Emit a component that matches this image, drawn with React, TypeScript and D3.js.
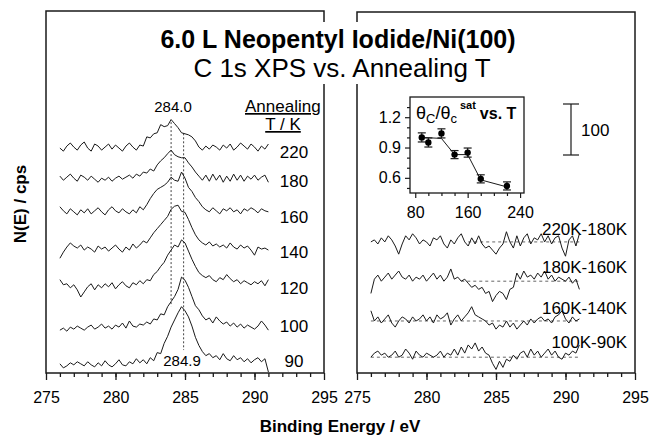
import React, { useEffect, useRef } from 'react';
import * as d3 from 'd3';

// spectra sampled from 276 to 291 eV every 0.25 eV
const eStart = 276;
const eStep = 0.25;

// annealing temperatures (K), top to bottom, and vertical offsets (cps)
const temps = ['220', '180', '160', '140', '120', '100', '90'];
const offsets = [441, 382, 316, 241, 169, 84, 10];

// C 1s spectra, cps above each offset
const s220 = [0, -6, 4, 10, 2, -4, 6, 12, 0, -6, 8, 4, -4, 2, 8, -2, 6, 0, -6, 4, 10, 2, -4, 6, 4,
  22, 20, 28, 30, 46, 42, 44, 56, 48, 40, 30, 28, 26, 22, 14, 2,
  -4, 4, -2, 6, 2, -4, 6, 0, 8, -4, 2, 10, 4, -2, 8, 2, -6, 4, -2, 8];
const s180 = [4, -4, 2, 8, 0, -6, 6, 2, -4, 4, -2, -8, 0, -4, 2, -6, 0, 4, -2, 2, 6, 0, 8, 4, 12,
  10, 18, 14, 26, 34, 40, 48, 55, 46, 42, 40, 40, 30, 22, 12, 4,
  -4, 6, -6, 8, -4, 6, -8, 4, -6, 8, -4, 6, -6, 4, -2, 6, -4, 2, 6, -8];
const s160 = [10, 2, -4, 6, 0, -6, 4, -2, 6, -4, 2, 8, 0, -6, 4, 10, 2, -2, 6, 0, -4, 4, -2, 10, 4,
  14, 26, 36, 44, 48, 52, 58, 68, 62, 60, 78, 66, 48, 40, 28, 20,
  10, 4, 0, 8, 2, -4, 6, 2, 8, 0, 4, -4, 6, 2, 8, 4, -2, 6, 2, 0];
const s140 = [-16, -4, 6, 14, 8, 4, 10, 0, 6, 2, -4, 8, 2, 6, -2, 4, 10, 2, -4, 6, 0, 12, 4, 10, 18,
  14, 24, 34, 42, 50, 58, 66, 80, 86, 88, 76, 74, 60, 44, 30, 20,
  14, 10, 16, 8, 12, 6, 10, 4, 14, 6, 2, 10, 4, 8, 0, -10, 6, 2, 4, 0];
const s120 = [14, 4, 6, -2, 4, -6, -20, -10, 0, 6, -6, 4, -2, 6, 0, 8, -4, 4, 10, 2, -2, 8, 4, 12, 6,
  14, 12, 24, 30, 40, 48, 62, 72, 82, 78, 92, 86, 70, 54, 40, 28,
  22, 18, 22, 14, 10, 18, 14, 24, 16, 10, 14, 6, 12, 8, 4, 10, 6, 12, 2, 14];
const s100 = [0, 4, -2, 6, 2, 8, 4, 0, 6, 10, 2, 6, 12, 4, 8, 2, 10, 6, 14, 4, 18, 8, 6, 12, 10,
  16, 12, 22, 20, 32, 30, 46, 56, 66, 80, 104, 98, 84, 66, 48, 40,
  28, 20, 24, 14, 26, 18, 12, 16, 8, 14, 6, 12, 4, 10, 6, 2, 8, 18, 10, 0];
const s90 = [8, 0, 4, 10, 6, 12, 8, 4, 12, 6, 2, 10, 4, 14, 6, 2, 8, 16, 6, 4, 12, 8, 18, 10, 16,
  8, 20, 14, 30, 28, 48, 62, 80, 94, 108, 120, 112, 100, 82, 60, 44,
  32, 24, 28, 20, 24, 16, 28, 18, 14, 24, 16, 20, 12, 18, 10, 16, 20, 12, 18, -8];
const spectra = [s220, s180, s160, s140, s120, s100, s90];

// peak positions marked with dotted lines (eV, cps range)
const refLines = [
  { e: 284.0, top: 492, bottom: 131, label: '284.0' },
  { e: 284.9, top: 470, bottom: 45, label: '284.9' },
];

// difference spectra
const diffLabels = ['220K-180K', '180K-160K', '160K-140K', '100K-90K'];
const diffOffsets = [257, 180, 102, 31];
const diffZeroFrom = [283, 282.5, 276, 276];
const d220 = [0, 4, -4, 8, 0, 12, 4, -8, -24, -4, 12, 4, 16, 8, -4, 4, 0, -8, 8, 4,
  12, -4, -12, 4, -4, 8, 16, 0, -8, 8, -4, 12, -4, -12, -8, -16, -24, -12, -4, 20,
  0, -12, 12, -8, 8, 16, -4, 8, 4, 16, 0, 12, -4, 8, 12, -12, -28, 4, 12, -8, 16];
const d180 = [-24, 4, 12, 0, 8, 16, 4, 12, 20, 8, 4, 12, 0, 8, 4, 12, 0, 8, 16, 4,
  12, 0, 8, 24, 4, 8, 0, 4, -4, -12, -8, -16, -12, -24, -20, -40, -28, -20, -24, -36,
  -16, -12, 16, 4, 20, 8, 12, 4, 16, 8, 20, 4, 12, 0, 8, 4, 0, 8, -4, 4, -16];
const d160 = [20, 0, 8, -4, 4, 12, -4, -12, 0, 8, 4, -4, 8, 0, 4, 12, 0, 8, -4, 12,
  4, 8, 16, -8, 4, 12, 0, 8, 16, 28, 12, 8, 4, 0, -8, -4, -16, -8, -12, 0,
  -12, -4, -16, -8, 0, -8, 4, -4, 4, 8, 0, 4, -4, 8, 12, 20, 4, -4, 8, 0, 4];
const d100 = [0, 8, 12, 4, 8, 0, 4, 12, 0, 4, 16, 8, -4, 12, 4, 0, 8, 4, 0, 4,
  12, 0, 8, 4, 16, 4, 20, 8, 24, 16, 28, 12, 20, 8, 4, -12, -24, -8, -20, -4,
  -8, 4, -4, 8, 12, 0, 16, 4, 12, 0, 8, 16, 4, 12, 0, -4, 8, 4, 12, 8, 24];
const diffs = [d220, d180, d160, d100];

// inset: carbon coverage vs annealing temperature
const insetT = [90, 100, 120, 140, 160, 180, 220];
const insetTheta = [1.0, 0.95, 1.04, 0.83, 0.85, 0.59, 0.52];
const insetErr = [0.045, 0.045, 0.045, 0.04, 0.045, 0.04, 0.04];
const fitT = [90, 120, 140, 160, 180, 220];
const fitTheta = [1.0, 0.99, 0.83, 0.83, 0.58, 0.51];

const font = "'Liberation Sans', Arial, Helvetica, sans-serif";

export default function App() {
  const ref = useRef<SVGSVGElement>(null);

  useEffect(() => {
    document.body.style.margin = '0';
    const svg = d3.select(ref.current);
    svg.selectAll('*').remove();

    const xL = d3.scaleLinear().domain([275, 295]).range([46, 324]);
    const xR = d3.scaleLinear().domain([275, 295]).range([357, 635]);
    const y = d3.scaleLinear().domain([0, 700]).range([373, 16]);
    const ink = '#1a1a1a';

    const drawTrace = (g: any, x: any, vals: number[], off: number) => {
      const line = d3.line<number>()
        .x((d, i) => x(eStart + i * eStep))
        .y(d => y(d + off));
      g.append('path')
        .attr('d', line(vals))
        .attr('fill', 'none')
        .attr('stroke', ink)
        .attr('stroke-width', 1)
        .attr('stroke-linejoin', 'round');
    };

    // panel frames
    [xL, xR].forEach((x, k) => {
      svg.append('rect')
        .attr('x', x.range()[0])
        .attr('y', k === 0 ? 11 : 12)
        .attr('width', x.range()[1] - x.range()[0])
        .attr('height', 373 - (k === 0 ? 11 : 12))
        .attr('fill', 'none')
        .attr('stroke', ink)
        .attr('stroke-width', 1.5);

      const minor = svg.append('g')
        .attr('transform', 'translate(0,373)')
        .call(d3.axisBottom(x).tickValues(d3.range(276, 295, 1)).tickSize(4).tickFormat(() => ''));
      minor.select('.domain').remove();
      const major = svg.append('g')
        .attr('transform', 'translate(0,373)')
        .call(d3.axisBottom(x).tickValues([275, 280, 285, 290, 295]).tickSize(7).tickPadding(12).tickFormat(d3.format('d')));
      major.select('.domain').remove();
      major.selectAll('text').attr('font-size', 16).attr('font-family', font).attr('fill', '#000');
      svg.selectAll('.tick line').attr('stroke', ink).attr('stroke-width', 1.3);
    });

    // left panel: spectra
    const gl = svg.append('g');
    refLines.forEach(r => {
      gl.append('line')
        .attr('x1', xL(r.e)).attr('x2', xL(r.e))
        .attr('y1', y(r.top)).attr('y2', y(r.bottom))
        .attr('stroke', '#444')
        .attr('stroke-width', 1)
        .attr('stroke-dasharray', '2,2');
    });
    spectra.forEach((s, i) => drawTrace(gl, xL, s, offsets[i]));
    const labelY = [158, 187, 223, 258, 294, 332, 367];
    temps.forEach((t, i) => {
      gl.append('text')
        .attr('x', 294).attr('y', labelY[i])
        .attr('text-anchor', 'middle')
        .attr('font-family', font).attr('font-size', 17)
        .text(t);
    });
    gl.append('text')
      .attr('x', 173).attr('y', 112).attr('text-anchor', 'middle')
      .attr('font-family', font).attr('font-size', 15)
      .text(refLines[0].label);
    gl.append('text')
      .attr('x', 182).attr('y', 366).attr('text-anchor', 'middle')
      .attr('font-family', font).attr('font-size', 15)
      .text(refLines[1].label);
    gl.append('text')
      .attr('x', 245).attr('y', 112)
      .attr('font-family', font).attr('font-size', 17)
      .attr('text-decoration', 'underline')
      .text('Annealing');
    gl.append('text')
      .attr('x', 283).attr('y', 130).attr('text-anchor', 'middle')
      .attr('font-family', font).attr('font-size', 17)
      .attr('text-decoration', 'underline')
      .text('T / K');

    // right panel: difference spectra
    const gr = svg.append('g');
    diffs.forEach((d, i) => {
      gr.append('line')
        .attr('x1', xR(diffZeroFrom[i])).attr('x2', xR(291))
        .attr('y1', y(diffOffsets[i])).attr('y2', y(diffOffsets[i]))
        .attr('stroke', '#555')
        .attr('stroke-width', 0.9)
        .attr('stroke-dasharray', '3,3');
      drawTrace(gr, xR, d, diffOffsets[i]);
    });
    const diffLabelY = [235, 273, 314, 348];
    diffLabels.forEach((t, i) => {
      gr.append('text')
        .attr('x', 627).attr('y', diffLabelY[i])
        .attr('text-anchor', 'end')
        .attr('font-family', font).attr('font-size', 17)
        .text(t);
    });

    // scale bar: 100 cps
    const barTop = 104;
    const barLen = y(0) - y(100);
    gr.append('line')
      .attr('x1', 571).attr('x2', 571)
      .attr('y1', barTop).attr('y2', barTop + barLen)
      .attr('stroke', ink).attr('stroke-width', 1.2);
    [barTop, barTop + barLen].forEach(yy => {
      gr.append('line')
        .attr('x1', 563).attr('x2', 579)
        .attr('y1', yy).attr('y2', yy)
        .attr('stroke', ink).attr('stroke-width', 1.2);
    });
    gr.append('text')
      .attr('x', 581).attr('y', 136)
      .attr('font-family', font).attr('font-size', 17)
      .text('100');

    // inset
    const xi = d3.scaleLinear().domain([72, 246]).range([410, 524]);
    const yi = d3.scaleLinear().domain([0.45, 1.4]).range([193, 97]);
    const gi = svg.append('g');
    gi.append('rect')
      .attr('x', 410).attr('y', 97).attr('width', 114).attr('height', 96)
      .attr('fill', '#fff').attr('stroke', ink).attr('stroke-width', 1.3);
    const yMinor = gi.append('g').attr('transform', 'translate(410,0)')
      .call(d3.axisLeft(yi).tickValues([0.5, 0.7, 0.8, 1.0, 1.1, 1.3]).tickSize(3).tickFormat(() => ''));
    const yMajor = gi.append('g').attr('transform', 'translate(410,0)')
      .call(d3.axisLeft(yi).tickValues([0.6, 0.9, 1.2]).tickSize(5).tickPadding(4).tickFormat(d3.format('.1f')));
    const xMinor = gi.append('g').attr('transform', 'translate(0,193)')
      .call(d3.axisBottom(xi).tickValues([100, 120, 140, 180, 200, 220]).tickSize(3).tickFormat(() => ''));
    const xMajor = gi.append('g').attr('transform', 'translate(0,193)')
      .call(d3.axisBottom(xi).tickValues([80, 160, 240]).tickSize(5).tickPadding(9).tickFormat(d3.format('d')));
    [yMinor, yMajor, xMinor, xMajor].forEach(a => {
      a.select('.domain').remove();
      a.selectAll('line').attr('stroke', ink).attr('stroke-width', 1.2);
      a.selectAll('text').attr('font-family', font).attr('font-size', 16).attr('fill', '#000');
    });

    const fitLine = d3.line<number>().x((d, i) => xi(fitT[i])).y(d => yi(d));
    gi.append('path')
      .attr('d', fitLine(fitTheta))
      .attr('fill', 'none').attr('stroke', ink).attr('stroke-width', 1);
    insetT.forEach((t, i) => {
      const cx = xi(t);
      const lo = yi(insetTheta[i] - insetErr[i]);
      const hi = yi(insetTheta[i] + insetErr[i]);
      gi.append('line').attr('x1', cx).attr('x2', cx).attr('y1', lo).attr('y2', hi)
        .attr('stroke', ink).attr('stroke-width', 1.2);
      [lo, hi].forEach(yy => {
        gi.append('line').attr('x1', cx - 4).attr('x2', cx + 4).attr('y1', yy).attr('y2', yy)
          .attr('stroke', ink).attr('stroke-width', 1.2);
      });
      gi.append('circle').attr('cx', cx).attr('cy', yi(insetTheta[i])).attr('r', 3.2).attr('fill', '#000');
    });
    const it = gi.append('text')
      .attr('x', 416).attr('y', 119)
      .attr('font-family', font).attr('font-size', 18);
    it.append('tspan').text('θ');
    it.append('tspan').attr('dy', 4).attr('font-size', 13).text('C');
    it.append('tspan').attr('dy', -4).text('/θ');
    it.append('tspan').attr('dy', 4).attr('font-size', 13).text('c');
    it.append('tspan').attr('dy', -14).attr('dx', 3).attr('font-size', 11).attr('font-weight', 'bold').text('sat');
    it.append('tspan').attr('dy', 10).attr('dx', 4).attr('font-weight', 'bold').attr('font-size', 16).text('vs. T');

    // title with white backing over the frames
    svg.append('rect')
      .attr('x', 150).attr('y', 22).attr('width', 385).attr('height', 62)
      .attr('fill', '#fff');
    svg.append('text')
      .attr('x', 338).attr('y', 48).attr('text-anchor', 'middle')
      .attr('font-family', font).attr('font-size', 25).attr('font-weight', 'bold')
      .text('6.0 L Neopentyl Iodide/Ni(100)');
    svg.append('text')
      .attr('x', 342).attr('y', 77).attr('text-anchor', 'middle')
      .attr('font-family', font).attr('font-size', 26)
      .text('C 1s XPS vs. Annealing T');

    // axis titles
    svg.append('text')
      .attr('transform', 'translate(26,204) rotate(-90)')
      .attr('text-anchor', 'middle')
      .attr('font-family', font).attr('font-size', 17).attr('font-weight', 'bold')
      .text('N(E) / cps');
    svg.append('text')
      .attr('x', 340).attr('y', 432).attr('text-anchor', 'middle')
      .attr('font-family', font).attr('font-size', 17).attr('font-weight', 'bold')
      .text('Binding Energy / eV');
  }, []);

  return <svg ref={ref} width={650} height={435} style={{ display: 'block', background: '#fff' }} />;
}
